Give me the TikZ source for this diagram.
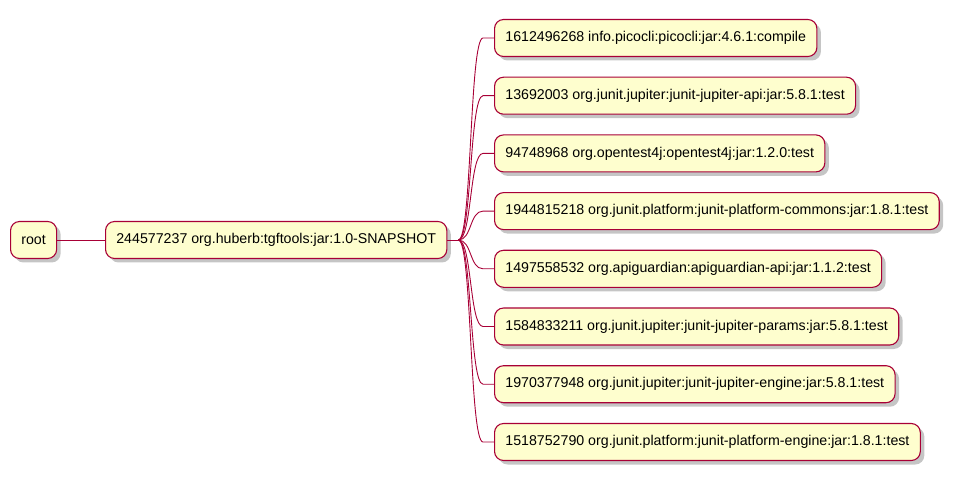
\documentclass[tikz,border=0pt]{standalone}
\usepackage{fontspec}
\setmainfont{Liberation Sans}
\usetikzlibrary{shadows,calc}
\definecolor{mapfill}{HTML}{FEFECE}
\definecolor{mapline}{HTML}{A80036}
\tikzset{
  idea/.style={draw=mapline, fill=mapfill, line width=1.1pt, rounded corners=9pt,
    minimum height=37pt, inner xsep=10.8pt, anchor=west, font=\fontsize{14.2}{16}\selectfont,
    drop shadow={shadow xshift=4pt, shadow yshift=-4pt, fill=black!45, opacity=0.5}},
  branch/.style={draw=mapline, line width=0.9pt}
}
\begin{document}
\begin{tikzpicture}[x=1pt,y=-1pt]
        \useasboundingbox (0,0) rectangle (956,481);
        \node[idea] (root) at (10,240) {root};
        \node[idea] (top) at (105,240) {244577237 org.huberb:tgftools:jar:1.0-SNAPSHOT};
        \draw[branch] (root) -- (top);
        \draw[branch] (top.east) -- ++(11,0) coordinate (fork);
        \foreach \i/\y/\txt in {1/38/1612496268 info.picocli:picocli:jar:4.6.1:compile,
            2/95.7/13692003 org.junit.jupiter:junit-jupiter-api:jar:5.8.1:test,
            3/153.4/94748968 org.opentest4j:opentest4j:jar:1.2.0:test,
            4/211.1/1944815218 org.junit.platform:junit-platform-commons:jar:1.8.1:test,
            5/268.8/1497558532 org.apiguardian:apiguardian-api:jar:1.1.2:test,
            6/326.5/1584833211 org.junit.jupiter:junit-jupiter-params:jar:5.8.1:test,
            7/384.2/1970377948 org.junit.jupiter:junit-jupiter-engine:jar:5.8.1:test,
            8/442/1518752790 org.junit.platform:junit-platform-engine:jar:1.8.1:test}{
            \node[idea] (dep\i) at (494,\y) {\txt};
            \draw[branch] (fork) .. controls ($(fork)+(13.5,0)$) and ($(dep\i.west)+(-24.5,0)$) .. ($(dep\i.west)+(-11,0)$) -- (dep\i.west);
        }
    \end{tikzpicture}
\end{document}
